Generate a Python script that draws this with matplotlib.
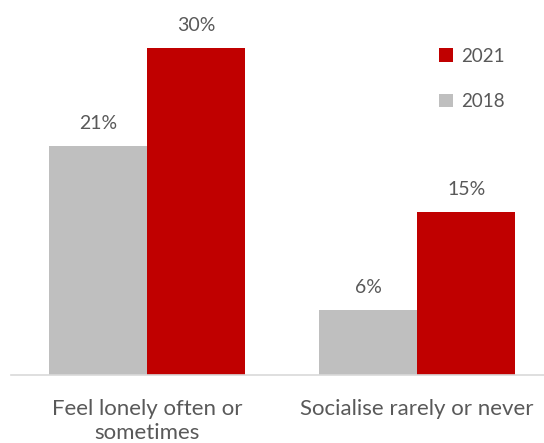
import matplotlib.pyplot as plt
import numpy as np

categories = ["Feel lonely often or\nsometimes", "Socialise rarely or never"]
vals_2018 = [21, 6]
vals_2021 = [30, 15]
series_names = ["2018", "2021"]

plt.rcParams['font.family'] = ['Lato', 'DejaVu Sans']
txt = '#595959'
red = '#C00000'
gray = '#BFBFBF'

fig = plt.figure(figsize=(5.44, 4.43), dpi=100)
ax = fig.add_axes([11/544, 68/443, 533/544, 355/443])

x = np.arange(len(categories))
w = 0.363
b18 = ax.bar(x - w/2, vals_2018, w, color=gray, label=series_names[0])
b21 = ax.bar(x + w/2, vals_2021, w, color=red, label=series_names[1])

for bars in (b18, b21):
    for rect in bars:
        h = rect.get_height()
        ax.annotate(f"{h:.0f}%", xy=(rect.get_x() + rect.get_width()/2, h),
                    xytext=(0, 10), textcoords="offset points",
                    ha='center', va='bottom', fontsize=14, color=txt)

ax.set_xlim(-0.504, 1.47)
ax.set_ylim(0, 32.6)
ax.set_xticks(x)
ax.set_xticklabels(categories, fontsize=16, color=txt, linespacing=1.3)
ax.tick_params(axis='x', length=0, pad=17)
ax.set_yticks([])
for s in ['top', 'right', 'left']:
    ax.spines[s].set_visible(False)
ax.spines['bottom'].set_color('#D9D9D9')
ax.spines['bottom'].set_linewidth(1.2)

ax.legend(handles=[b21, b18], loc='upper left', bbox_to_anchor=(422/544, 1 - 31/443),
          bbox_transform=fig.transFigure, frameon=False, fontsize=13.5,
          handlelength=0.75, handleheight=0.75, handletextpad=0.45,
          labelspacing=1.5, labelcolor=txt)

fig.savefig("out.png", dpi=100)
